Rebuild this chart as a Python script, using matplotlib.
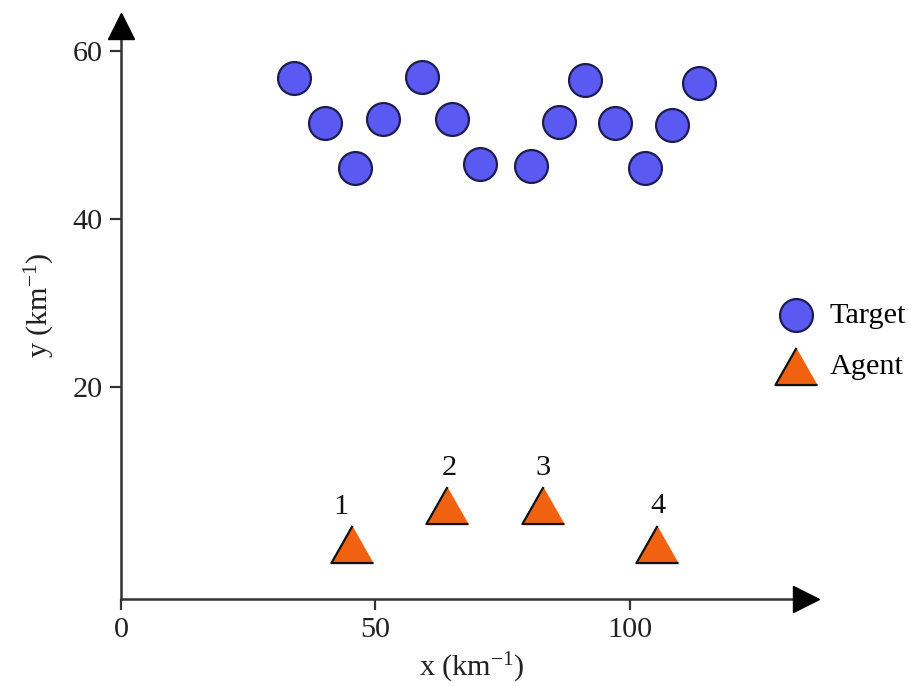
import matplotlib
matplotlib.use("Agg")
import matplotlib.pyplot as plt

plt.rcParams["font.family"] = ["Liberation Serif", "DejaVu Serif"]
plt.rcParams["mathtext.fontset"] = "custom"
plt.rcParams["mathtext.rm"] = "Liberation Serif"
plt.rcParams["mathtext.it"] = "Liberation Serif:italic"
plt.rcParams["mathtext.bf"] = "Liberation Serif:bold"

# Target positions (km)
target_x = [34.0, 40.1, 46.0, 51.5, 59.2, 65.0, 70.5, 80.7, 86.2, 91.2, 97.1, 103.0, 108.3, 113.6]
target_y = [56.7, 51.4, 46.0, 51.9, 56.9, 51.9, 46.5, 46.3, 51.5, 56.5, 51.4, 46.1, 51.2, 56.2]

# Agent positions (km) and their ids
agent_x = [45.5, 64.2, 82.9, 105.4]
agent_y = [1.4, 5.95, 5.95, 1.4]
agent_ids = ["1", "2", "3", "4"]

x_ticks = [0, 50, 100]
y_ticks = [20, 40, 60]

FS = 21.8
AXIS_COLOR = "#333333"
TARGET_FACE = "#5a5af2"
TARGET_EDGE = "#1c1c50"
AGENT_FACE = "#f0620f"
AGENT_EDGE = "#111111"
tri = [(0, 0.88), (-1, -0.88), (1, -0.88)]

fig = plt.figure(figsize=(9.11, 6.86), dpi=100)
ax = fig.add_axes([121 / 911, 1 - 599 / 686, (805.5 - 121) / 911, (599 - 25.5) / 686])

ax.scatter(target_x, target_y, s=560, marker="o", facecolor=TARGET_FACE,
           edgecolor=TARGET_EDGE, linewidths=1.6, zorder=3, label="Target")
ax.scatter(agent_x, agent_y, s=920, marker=tri, facecolor=AGENT_FACE,
           edgecolor=AGENT_EDGE, linewidths=1.6, zorder=3, label="Agent")

label_offsets = [(-8, 26), (1, 27), (0, 27), (1, 27)]
for xv, yv, lab, off in zip(agent_x, agent_y, agent_ids, label_offsets):
    ax.annotate(lab, (xv, yv), xytext=off, textcoords="offset points",
                ha="center", va="center", fontsize=FS, color="#111111")

ax.set_xlim(0, 134.6)
ax.set_ylim(-5.2, 63.0)
ax.set_xticks(x_ticks)
ax.set_yticks(y_ticks)
ax.tick_params(axis="both", direction="out", length=8, width=1.6,
               color=AXIS_COLOR, labelsize=FS, labelcolor="#222222", pad=5)

for side in ("top", "right"):
    ax.spines[side].set_visible(False)
for side in ("left", "bottom"):
    ax.spines[side].set_color(AXIS_COLOR)
    ax.spines[side].set_linewidth(1.8)

# arrowheads at the ends of the axes
ax.plot([1], [0], marker=">", markersize=19, color="black",
        transform=ax.transAxes, clip_on=False, zorder=5)
ax.plot([0], [1], marker="^", markersize=19, color="black",
        transform=ax.transAxes, clip_on=False, zorder=5)

fig.text(472 / 911, 1 - 668 / 686, "x (km$^{-1}$)", ha="center", va="center",
         fontsize=FS, color="#222222")
fig.text(40 / 911, 1 - 305 / 686, "y (km$^{-1}$)", ha="center", va="center",
         rotation=90, fontsize=FS, color="#222222")

ax.legend(loc="center left", bbox_to_anchor=(781 / 911, 1 - 341 / 686),
          bbox_transform=fig.transFigure, frameon=False, fontsize=FS,
          handlelength=1.0, handletextpad=0.6, labelspacing=0.8,
          borderpad=0, borderaxespad=0, scatterpoints=1)

fig.savefig("out.png", dpi=100)
